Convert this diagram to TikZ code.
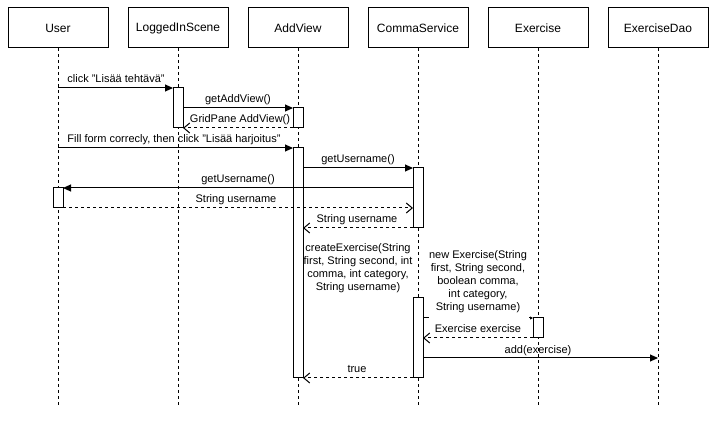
\documentclass[tikz,border=0pt]{standalone}
\usepackage{fontspec}
\setmainfont{Liberation Sans}
\usetikzlibrary{arrows.meta}
\begin{document}
\begin{tikzpicture}[x=1pt,y=-1pt,line width=1pt,
  header/.style={draw,minimum width=100pt,minimum height=40pt,inner sep=0pt,outer sep=0pt,font=\fontsize{12}{14}\selectfont},
  lifeline/.style={dash pattern=on 3pt off 3pt},
  act/.style={draw,fill=white,minimum width=10pt,inner sep=0pt,outer sep=0pt,anchor=north},
  msg/.style={-{Triangle[length=8pt,width=7pt]}},
  ret/.style={dash pattern=on 3pt off 3pt,-{Straight Barb[length=6pt,width=10pt]}},
  lbl/.style={font=\fontsize{11}{13}\selectfont,inner sep=0pt,anchor=base},
  mlbl/.style={font=\fontsize{11}{13}\selectfont,inner sep=0pt,align=center,anchor=north}]
\useasboundingbox (0,0) rectangle (721,422);
% headers
\node[header] (user) at (58,28) {User};
\node[header] (lis) at (178,28) {LoggedInScene};
\node[header] (av) at (298,28) {AddView};
\node[header] (cs) at (418,28) {CommaService};
\node[header] (ex) at (538,28) {Exercise};
\node[header] (dao) at (658,28) {ExerciseDao};
% lifeline ends
\coordinate (userEnd) at (58,405);
\coordinate (lisEnd) at (178,405);
\coordinate (avEnd) at (298,405);
\coordinate (csEnd) at (418,405);
\coordinate (exEnd) at (538,405);
\coordinate (daoEnd) at (658,405);
\foreach \a in {user,lis,av,cs,ex,dao}{\draw[lifeline] (\a.south) -- (\a End);}
% activations
\node[act,minimum height=40pt] (liA) at (178,88) {};
\node[act,minimum height=20pt] (avA) at (298,108) {};
\node[act,minimum height=230pt] (avB) at (298,148) {};
\node[act,minimum height=60pt] (csA) at (418,168) {};
\node[act,minimum height=20pt] (usA) at (58,188) {};
\node[act,minimum height=80pt] (csB) at (418,298) {};
\node[act,minimum height=20pt] (exA) at (538,318) {};
\coordinate (addY) at (658,358);
% messages
\draw[msg] (user |- liA.north) -- (liA.north west);
\node[lbl] (m1) at (116,83) {click "Lisää tehtävä"};
\draw[msg] (liA.east |- avA.north) -- (avA.north west);
\node[lbl] (m2) at (238,103) {getAddView()};
\draw[ret] (avA.south west) -- (liA.east |- avA.south);
\node[lbl] (m3) at (240,123) {GridPane AddView()};
\draw[msg] (user |- avB.north) -- (avB.north west);
\node[lbl] (m4) at (174,143) {Fill form correcly, then click "Lisää harjoitus"};
\draw[msg] (avB.east |- csA.north) -- (csA.north west);
\node[lbl] (m5) at (358,163) {getUsername()};
\draw[msg] (csA.west |- usA.north) -- (usA.north east);
\node[lbl] (m6) at (238,183) {getUsername()};
\draw[ret] (usA.south east) -- (csA.west |- usA.south);
\node[lbl] (m7) at (236,203) {String username};
\draw[ret] (csA.south west) -- (avB.east |- csA.south);
\node[lbl] (m8) at (357,223) {String username};
\node[mlbl] (m9) at (358,243) {createExercise(String\\first, String second, int\\comma, int category,\\String username)};
\node[mlbl] (m10) at (478,250) {new Exercise(String\\first, String second,\\boolean comma,\\int category,\\String username)};
\draw (csB.east |- exA.north) -- ++(6,0);
\draw[-{Triangle[length=3pt,width=3pt]}] ([xshift=-4pt]exA.north west) -- (exA.north west);
\draw[ret] (exA.south west) -- (csB.east |- exA.south);
\node[lbl] (m11) at (478,333) {Exercise exercise};
\draw[msg] (csB.east |- addY) -- (addY);
\node[lbl] (m12) at (538,353) {add(exercise)};
\draw[ret] (csB.south west) -- (avB.east |- csB.south);
\node[lbl] (m13) at (357,373) {true};
\end{tikzpicture}
\end{document}
